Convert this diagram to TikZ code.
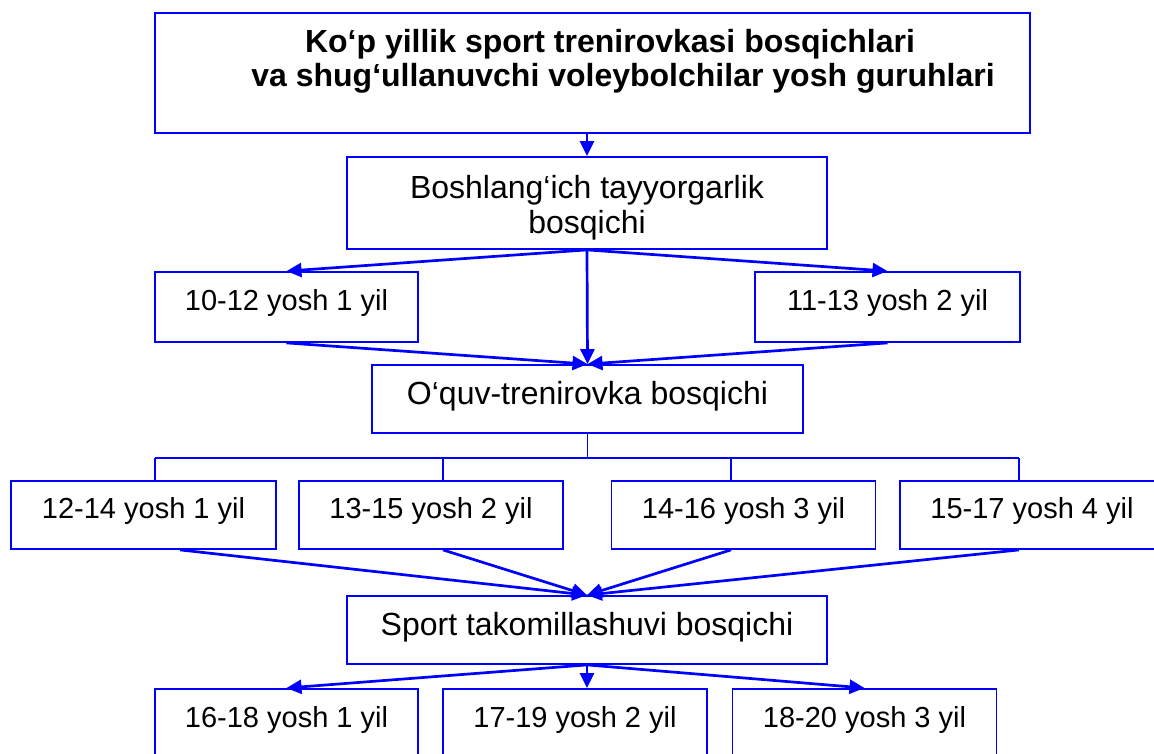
\documentclass[tikz,border=0pt]{standalone}
\usepackage{fontspec}
\setmainfont{Liberation Sans}
\usetikzlibrary{arrows.meta}
\definecolor{lineblue}{RGB}{0,0,255}
\tikzset{
  box/.style={draw=lineblue, line width=1.8pt, fill=white, inner sep=0pt, align=center},
  yearbox/.style={box, font=\fontsize{29}{34}\selectfont, text height=21pt, text depth=14pt},
  stagebox/.style={box, font=\fontsize{32}{35}\selectfont, text height=22pt, text depth=11pt},
  arr/.style={draw=lineblue, line width=2.7pt, -{Triangle[length=15pt,width=14pt]}},
  tree/.style={draw=lineblue, line width=1.4pt},
  lbl/.style={align=center, inner sep=0pt}
}
\begin{document}
\begin{tikzpicture}[x=1pt,y=-1pt]
\useasboundingbox (0,0) rectangle (1154,754);
% boxes
\node[box, minimum width=875, minimum height=120] (top) at (592.5,73) {};
\node[lbl, font=\fontsize{32}{34}\selectfont\bfseries] (toptext) at (610,61.5) {Ko‘p yillik sport trenirovkasi bosqichlari\\\hspace*{26pt}va shug‘ullanuvchi voleybolchilar yosh guruhlari};
\node[box, minimum width=480, minimum height=92] (b2) at (587,203) {};
\node[lbl, font=\fontsize{32}{35}\selectfont] (b2text) at (587,207.5) {Boshlang‘ich tayyorgarlik\\bosqichi};
\node[yearbox, minimum width=263, minimum height=70] (a1) at (286.5,307) {10-12 yosh 1 yil};
\node[yearbox, minimum width=265, minimum height=70] (a2) at (887.5,307) {11-13 yosh 2 yil};
\node[stagebox, minimum width=431, minimum height=68] (ot) at (587.5,399) {O‘quv-trenirovka bosqichi};
\node[yearbox, minimum width=265, minimum height=68] (c1) at (143.5,515) {12-14 yosh 1 yil};
\node[yearbox, minimum width=264, minimum height=68] (c2) at (431,515) {13-15 yosh 2 yil};
\node[yearbox, minimum width=264, minimum height=68] (c3) at (743.5,515) {14-16 yosh 3 yil};
\node[yearbox, minimum width=264, minimum height=68] (c4) at (1032,515) {15-17 yosh 4 yil};
\node[stagebox, minimum width=480, minimum height=68] (sp) at (587,630) {Sport takomillashuvi bosqichi};
\node[yearbox, minimum width=263, anchor=north, text height=39pt, text depth=60pt] (d1) at (286.5,688) {16-18 yosh 1 yil};
\node[yearbox, minimum width=264, anchor=north, text height=39pt, text depth=60pt] (d2) at (575,688) {17-19 yosh 2 yil};
\node[yearbox, minimum width=264, anchor=north, text height=39pt, text depth=60pt] (d3) at (864.5,688) {18-20 yosh 3 yil};
% connectors
\draw[arr] (b2.north |- top.south) -- (b2.north);
\draw[arr] (b2.south) -- (a1.north);
\draw[arr] (b2.south) -- (a2.north);
\draw[arr] (b2.south) -- (ot.north);
\draw[arr] (a1.south) -- (ot.north);
\draw[arr] (a2.south) -- (ot.north);
% tree
\coordinate (bus) at (587.5,458);
\coordinate (j1) at (155,458);
\coordinate (j2) at (443,458);
\coordinate (j3) at (731,458);
\coordinate (j4) at (1019,458);
\draw[tree] (ot.south) -- (bus);
\draw[tree] (j1) -- (j4);
\draw[tree] (j1) -- (j1 |- c1.north);
\draw[tree] (j2) -- (j2 |- c2.north);
\draw[tree] (j3) -- (j3 |- c3.north);
\draw[tree] (j4) -- (j4 |- c4.north);
% to sport
\coordinate (s1) at (180,549);
\draw[arr] (s1 |- c1.south) -- (sp.north);
\draw[arr] (j2 |- c2.south) -- (sp.north);
\draw[arr] (j3 |- c3.south) -- (sp.north);
\draw[arr] (j4 |- c4.south) -- (sp.north);
% from sport
\draw[arr] (sp.south) -- (d1.north);
\draw[arr] (sp.south) -- (sp.south |- d2.north);
\draw[arr] (sp.south) -- (d3.north);
\end{tikzpicture}
\end{document}
